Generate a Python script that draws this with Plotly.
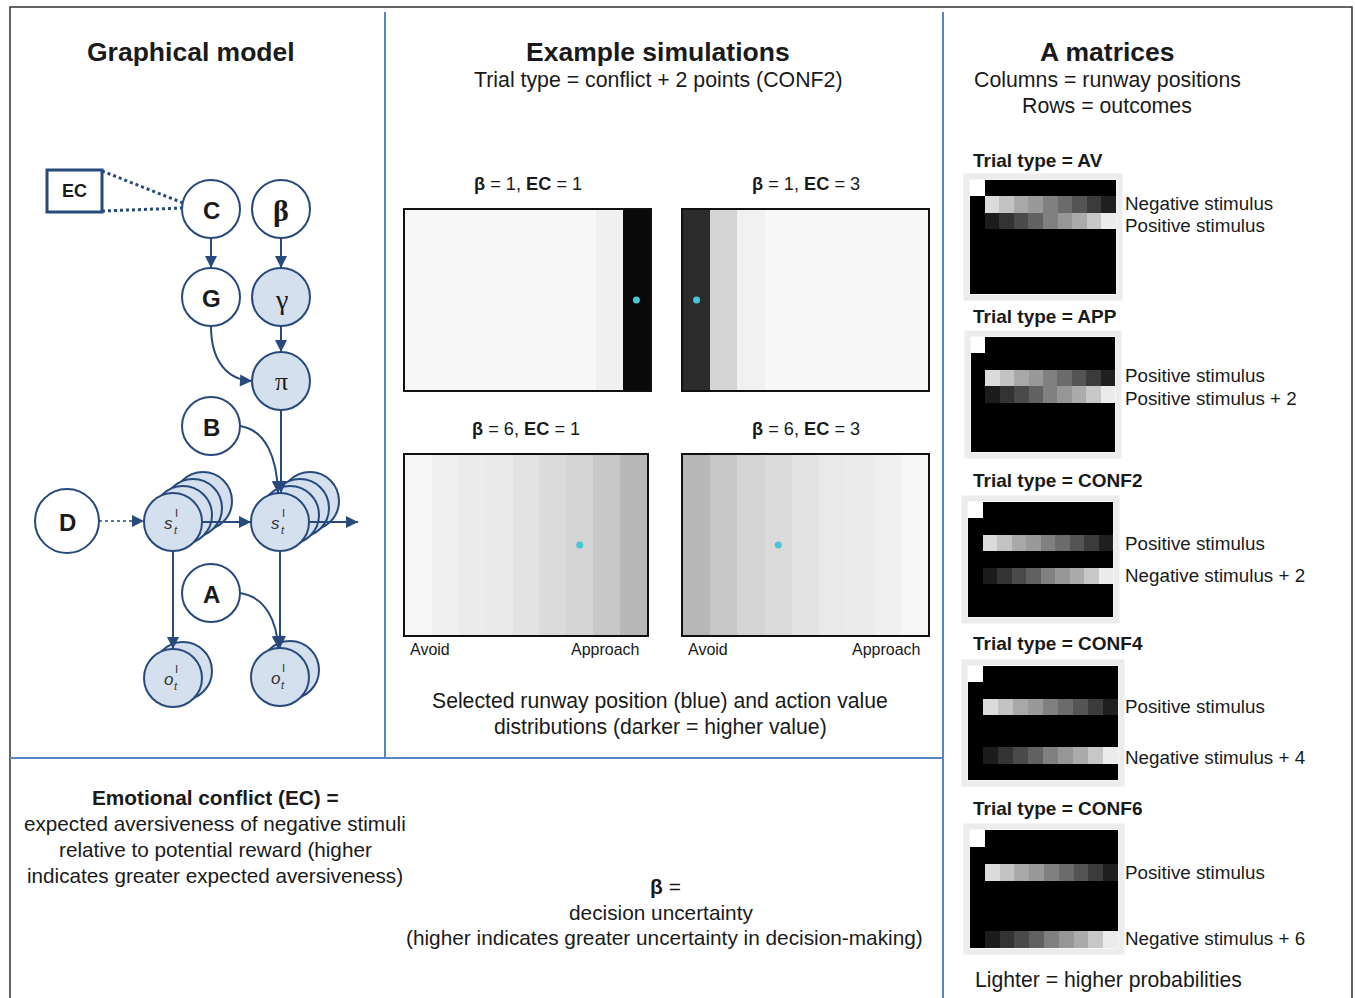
import plotly.graph_objects as go

W, H = 1355, 998
SANS = "Liberation Sans, Arial, Helvetica, sans-serif"
SERIF = "Liberation Serif, DejaVu Serif, Times New Roman, serif"
NAVY = "#27497c"
LIGHT = "#d4e0ee"
SEP = "#5a85c4"

# ---------------- data ----------------
positions = [1, 2, 3, 4, 5, 6, 7, 8, 9]
sim_titles = ["<b>β</b> = 1, <b>EC</b> = 1", "<b>β</b> = 1, <b>EC</b> = 3",
              "<b>β</b> = 6, <b>EC</b> = 1", "<b>β</b> = 6, <b>EC</b> = 3"]
# action value shade (0 = white / low value, 1 = black / high value)
value_b1_ec1 = [0.03, 0.03, 0.03, 0.03, 0.03, 0.03, 0.03, 0.06, 0.96]
value_b1_ec3 = [0.83, 0.17, 0.055, 0.03, 0.03, 0.03, 0.03, 0.03, 0.03]
value_b6_ec1 = [0.035, 0.06, 0.08, 0.085, 0.11, 0.14, 0.17, 0.22, 0.28]
value_b6_ec3 = [0.28, 0.22, 0.17, 0.14, 0.11, 0.085, 0.08, 0.06, 0.035]
selected_position = [9, 1, 7, 4]

a_trial_types = ["AV", "APP", "CONF2", "CONF4", "CONF6"]
a_columns = [0, 1, 2, 3, 4, 5, 6, 7, 8, 9]
a_outcomes = [0, 1, 2, 3, 4, 5, 6]
start_row = [1.0, 0, 0, 0, 0, 0, 0, 0, 0, 0]
falling_row = [0, 0.86, 0.76, 0.66, 0.6, 0.5, 0.42, 0.33, 0.23, 0.12]
rising_row = [0, 0.11, 0.2, 0.29, 0.38, 0.5, 0.59, 0.67, 0.78, 0.92]
a_first_row = [1, 2, 2, 2, 2]
a_second_row = [2, 3, 4, 5, 6]
a_first_label = ["Negative stimulus", "Positive stimulus", "Positive stimulus",
                 "Positive stimulus", "Positive stimulus"]
a_second_label = ["Positive stimulus", "Positive stimulus + 2", "Negative stimulus + 2",
                  "Negative stimulus + 4", "Negative stimulus + 6"]

# ---------------- layout helpers ----------------
fig = go.Figure()
shapes, annots = [], []
layout = dict(
    width=W, height=H, margin=dict(l=0, r=0, t=0, b=0),
    paper_bgcolor="white", plot_bgcolor="rgba(0,0,0,0)", showlegend=False,
    xaxis=dict(range=[0, W], domain=[0, 1], visible=False, fixedrange=True),
    yaxis=dict(range=[H, 0], domain=[0, 1], visible=False, fixedrange=True),
)


def txt(x, y, text, size, bold=False, anchor="center", family=SANS, color="#1a1a1a", italic=False):
    if bold:
        text = "<b>" + text + "</b>"
    if italic:
        text = "<i>" + text + "</i>"
    annots.append(dict(x=x, y=y, xref="x", yref="y", text=text, showarrow=False,
                       xanchor=anchor, yanchor="middle",
                       font=dict(size=size, family=family, color=color)))


def line(x0, y0, x1, y1, color=NAVY, width=2, dash="solid"):
    shapes.append(dict(type="line", xref="x", yref="y", x0=x0, y0=y0, x1=x1, y1=y1,
                       line=dict(color=color, width=width, dash=dash)))


def head(tx, ty, hx, hy):
    annots.append(dict(x=hx, y=hy, ax=tx, ay=ty, xref="x", yref="y", axref="x", ayref="y",
                       text="", showarrow=True, arrowhead=2, arrowsize=1.2, arrowwidth=2,
                       arrowcolor=NAVY, standoff=0, startstandoff=0))


def circle(cx, cy, r, fill):
    shapes.append(dict(type="circle", xref="x", yref="y", x0=cx - r, x1=cx + r,
                       y0=cy - r, y1=cy + r, fillcolor=fill, line=dict(color=NAVY, width=2)))


def add_axes(i, box):
    x0, y0, x1, y1 = box
    return dict(domain=[x0 / W, x1 / W], anchor="y%d" % i), dict(domain=[1 - y1 / H, 1 - y0 / H], anchor="x%d" % i)


# ---------------- frame and separators ----------------
shapes.append(dict(type="rect", xref="x", yref="y", x0=10, y0=7, x1=1352, y1=1010,
                   line=dict(color="#333333", width=1.5)))
line(385, 12, 385, 757, SEP, 2)
line(943, 12, 943, 1000, SEP, 2)
line(10, 758, 943, 758, SEP, 2)

# ---------------- titles ----------------
txt(191, 52, "Graphical model", 26.5, bold=True)
txt(658, 52, "Example simulations", 26.5, bold=True)
txt(658, 80, "Trial type = conflict + 2 points (CONF2)", 21.3)
txt(1107, 52, "A matrices", 26.5, bold=True)
txt(1107, 80, "Columns = runway positions", 21.3)
txt(1107, 106, "Rows = outcomes", 21.3)

# ---------------- middle heatmaps ----------------
sim_values = [value_b1_ec1, value_b1_ec3, value_b6_ec1, value_b6_ec3]
sim_boxes = [(405, 210, 650, 390), (683, 210, 928, 390), (405, 455, 647, 635), (683, 455, 928, 635)]
ax_i = 2
for k in range(4):
    box = sim_boxes[k]
    xa, ya = add_axes(ax_i, box)
    common = dict(showgrid=False, zeroline=False, showticklabels=False, ticks="",
                  showline=True, mirror=True, linecolor="#111111", linewidth=2, fixedrange=True)
    xa.update(range=[0.5, 9.5], **common)
    ya.update(range=[-0.5, 0.5], **common)
    layout["xaxis%d" % ax_i] = xa
    layout["yaxis%d" % ax_i] = ya
    fig.add_trace(go.Heatmap(z=[sim_values[k]], x=positions, y=[0], zmin=0, zmax=1,
                             colorscale=[[0, "white"], [1, "black"]], showscale=False,
                             xaxis="x%d" % ax_i, yaxis="y%d" % ax_i, hoverinfo="skip"))
    fig.add_trace(go.Scatter(x=[selected_position[k]], y=[0], mode="markers",
                             marker=dict(color="#4cc4d8", size=7, line=dict(width=0)),
                             xaxis="x%d" % ax_i, yaxis="y%d" % ax_i, hoverinfo="skip"))
    txt((box[0] + box[2]) / 2, box[1] - 26, sim_titles[k], 18.2)
    ax_i += 1

for bx in (sim_boxes[2], sim_boxes[3]):
    txt(bx[0] + 3, 649, "Avoid", 16, anchor="left")
    txt(bx[2] - 5, 649, "Approach", 16, anchor="right")

txt(660, 701, "Selected runway position (blue) and action value", 21.2)
txt(660, 727, "distributions (darker = higher value)", 21.2)

# ---------------- bottom texts ----------------
txt(215, 797, "Emotional conflict (EC) =", 20.8, bold=True)
txt(215, 823, "expected aversiveness of negative stimuli", 20.7)
txt(215, 849, "relative to potential reward (higher", 20.7)
txt(215, 875, "indicates greater expected aversiveness)", 20.7)
txt(665, 886, "<b>β</b> =", 21)
txt(661, 912, "decision uncertainty", 20.8)
txt(664, 937, "(higher indicates greater uncertainty in decision-making)", 20.8)

# ---------------- A matrices ----------------
a_boxes = [(970, 180, 1116, 294), (971, 337, 1115, 452), (968, 502, 1113, 617),
           (968, 666, 1118, 780), (970, 830, 1118, 948)]
a_title_y = [160, 316, 480, 643, 808]
a_label_shift = [(1, -5), (3, -4), (0, 0), (0, -2), (0, 1)]  # pixel nudges (first, second)
for k in range(5):
    box = a_boxes[k]
    z = []
    for r in a_outcomes:
        if r == 0:
            z.append(start_row)
        elif r == a_first_row[k]:
            z.append(falling_row)
        elif r == a_second_row[k]:
            z.append(rising_row)
        else:
            z.append([0] * len(a_columns))
    xa, ya = add_axes(ax_i, box)
    common = dict(showgrid=False, zeroline=False, showticklabels=False, ticks="",
                  showline=False, fixedrange=True)
    xa.update(range=[-0.5, 9.5], **common)
    ya.update(range=[6.5, -0.5], **common)
    layout["xaxis%d" % ax_i] = xa
    layout["yaxis%d" % ax_i] = ya
    fig.add_trace(go.Heatmap(z=z, x=a_columns, y=a_outcomes, zmin=0, zmax=1,
                             colorscale=[[0, "black"], [1, "white"]], showscale=False,
                             xaxis="x%d" % ax_i, yaxis="y%d" % ax_i, hoverinfo="skip"))
    # light grey image margin
    shapes.append(dict(type="rect", xref="x", yref="y", x0=box[0] - 3.5, y0=box[1] - 3.5,
                       x1=box[2] + 3.5, y1=box[3] + 3.5, line=dict(color="#ececec", width=6)))
    annots.append(dict(x=971 / W, y=a_title_y[k], xref="paper", yref="y",
                       text="<b>Trial type = %s</b>" % a_trial_types[k],
                       showarrow=False, xanchor="left", yanchor="middle",
                       font=dict(size=19, family=SANS, color="#1a1a1a")))
    for j, (row, lab) in enumerate(((a_first_row[k], a_first_label[k]),
                                    (a_second_row[k], a_second_label[k]))):
        annots.append(dict(x=1123 / W, y=row, xref="paper", yref="y%d" % ax_i, text=lab,
                           showarrow=False, xanchor="left", yanchor="middle",
                           yshift=a_label_shift[k][j],
                           font=dict(size=18.8, family=SANS, color="#1a1a1a")))
    ax_i += 1

txt(973, 980, "Lighter = higher probabilities", 21.2, anchor="left")

# ---------------- graphical model ----------------
# EC box and dotted links
line(102, 171, 183, 203, NAVY, 3, "dot")
line(102, 211, 183, 208, NAVY, 3, "dot")
shapes.append(dict(type="rect", xref="x", yref="y", x0=47, y0=170, x1=102, y1=212,
                   fillcolor="white", line=dict(color=NAVY, width=3)))
txt(74.5, 191, "EC", 18, bold=True)

nodes = [("C", 211, 209, "white", 29), ("β", 281, 209, "white", 29), ("G", 211, 297, "white", 29),
         ("γ", 281, 297, LIGHT, 29), ("π", 281, 381, LIGHT, 29), ("B", 211, 426, "white", 29),
         ("D", 67, 521, "white", 32), ("A", 211, 593, "white", 29)]
for name, cx, cy, fill, r in nodes:
    circle(cx, cy, r, fill)

# stacked state / outcome nodes
stacks = [(173, 522, 4), (280, 522, 4), (173, 678, 2), (280, 677, 2)]
for cx, cy, n in stacks:
    for k in reversed(range(n)):
        circle(cx + 10 * k, cy - 7 * k, 29, LIGHT)

# straight arrows
straight = [(211, 238, 211, 268), (281, 238, 281, 268), (281, 326, 281, 352),
            (281, 410, 281, 493), (203, 522, 251, 522), (310, 522, 358, 522),
            (173, 551, 173, 649), (280, 551, 280, 648)]
for x0, y0, x1, y1 in straight:
    line(x0, y0, x1, y1)
    dx, dy = x1 - x0, y1 - y0
    L = (dx * dx + dy * dy) ** 0.5
    head(x1 - 8 * dx / L, y1 - 8 * dy / L, x1, y1)

# dotted D -> s
line(99, 521, 140, 521, NAVY, 1.5, "dot")
head(136, 521, 144, 521)

# curved arrows
curves = [("M 211,326 C 211,362 228,380 252,381", (244, 380.6, 252, 381)),
          ("M 240,426 C 266,430 277,458 278,493", (277.8, 485, 278, 493)),
          ("M 240,593 C 266,597 277,622 278,648", (277.8, 640, 278, 648))]
for p, (tx, ty, hx, hy) in curves:
    shapes.append(dict(type="path", xref="x", yref="y", path=p, line=dict(color=NAVY, width=2)))
    head(tx, ty, hx, hy)

# node labels
for name, cx, cy, fill, r in nodes:
    if name == "β":
        txt(cx, cy + 1, "<b>β</b>", 30, family=SERIF)
    elif name == "γ":
        txt(cx, cy + 2, "γ", 28, family=SERIF)
    elif name == "π":
        txt(cx, cy, "π", 26, family=SERIF)
    else:
        txt(cx, cy + 1, name, 24, bold=True)

for cx, cy, letter in ((173, 522, "s"), (280, 522, "s"), (173, 678, "o"), (280, 677, "o")):
    txt(cx - 5, cy + 1, letter, 17, italic=True, color="#333333")
    txt(cx + 3, cy - 9, "I", 11, color="#333333")
    txt(cx + 3, cy + 8, "t", 11, italic=True, color="#333333")

layout["shapes"] = shapes
layout["annotations"] = annots
fig.update_layout(**layout)
fig.write_html("out.html", config={"displayModeBar": False},
               post_script="document.body.style.margin='0';document.body.style.overflow='hidden';")
